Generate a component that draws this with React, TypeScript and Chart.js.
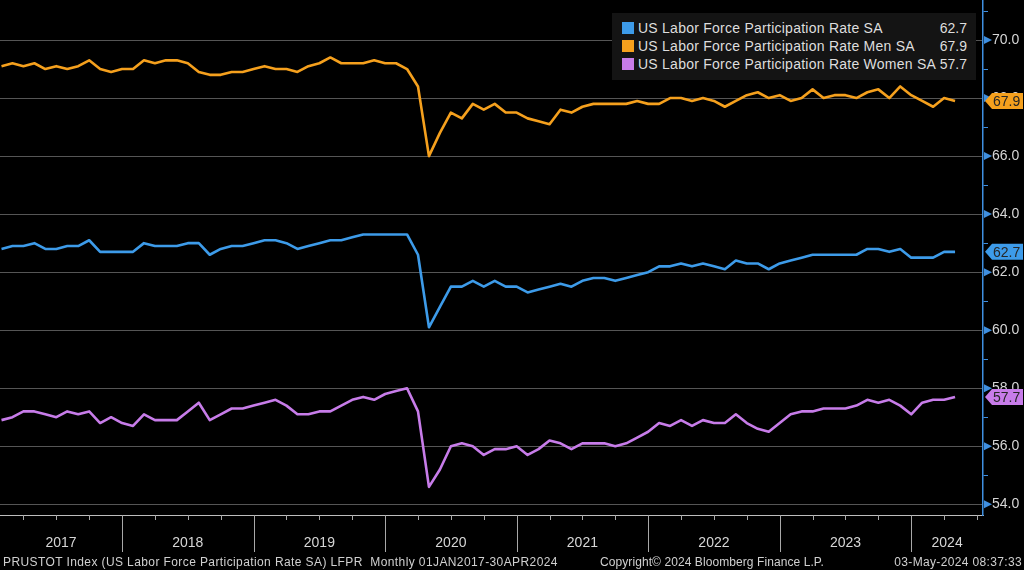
import React, { useEffect, useRef } from 'react';
import { Chart, registerables } from 'chart.js';

Chart.register(...registerables);

// ---------- data (monthly, Jan 2017 .. Apr 2024) ----------
const startYear = 2017;
const yearLabels = ['2017', '2018', '2019', '2020', '2021', '2022', '2023', '2024'];

const totalRate = [
  62.8, 62.9, 62.9, 63.0, 62.8, 62.8, 62.9, 62.9, 63.1, 62.7, 62.7, 62.7,
  62.7, 63.0, 62.9, 62.9, 62.9, 63.0, 63.0, 62.6, 62.8, 62.9, 62.9, 63.0,
  63.1, 63.1, 63.0, 62.8, 62.9, 63.0, 63.1, 63.1, 63.2, 63.3, 63.3, 63.3,
  63.3, 63.3, 62.6, 60.1, 60.8, 61.5, 61.5, 61.7, 61.5, 61.7, 61.5, 61.5,
  61.3, 61.4, 61.5, 61.6, 61.5, 61.7, 61.8, 61.8, 61.7, 61.8, 61.9, 62.0,
  62.2, 62.2, 62.3, 62.2, 62.3, 62.2, 62.1, 62.4, 62.3, 62.3, 62.1, 62.3,
  62.4, 62.5, 62.6, 62.6, 62.6, 62.6, 62.6, 62.8, 62.8, 62.7, 62.8, 62.5,
  62.5, 62.5, 62.7, 62.7,
];

const menRate = [
  69.1, 69.2, 69.1, 69.2, 69.0, 69.1, 69.0, 69.1, 69.3, 69.0, 68.9, 69.0,
  69.0, 69.3, 69.2, 69.3, 69.3, 69.2, 68.9, 68.8, 68.8, 68.9, 68.9, 69.0,
  69.1, 69.0, 69.0, 68.9, 69.1, 69.2, 69.4, 69.2, 69.2, 69.2, 69.3, 69.2,
  69.2, 69.0, 68.4, 66.0, 66.8, 67.5, 67.3, 67.8, 67.6, 67.8, 67.5, 67.5,
  67.3, 67.2, 67.1, 67.6, 67.5, 67.7, 67.8, 67.8, 67.8, 67.8, 67.9, 67.8,
  67.8, 68.0, 68.0, 67.9, 68.0, 67.9, 67.7, 67.9, 68.1, 68.2, 68.0, 68.1,
  67.9, 68.0, 68.3, 68.0, 68.1, 68.1, 68.0, 68.2, 68.3, 68.0, 68.4, 68.1,
  67.9, 67.7, 68.0, 67.9,
];

const womenRate = [
  56.9, 57.0, 57.2, 57.2, 57.1, 57.0, 57.2, 57.1, 57.2, 56.8, 57.0, 56.8,
  56.7, 57.1, 56.9, 56.9, 56.9, 57.2, 57.5, 56.9, 57.1, 57.3, 57.3, 57.4,
  57.5, 57.6, 57.4, 57.1, 57.1, 57.2, 57.2, 57.4, 57.6, 57.7, 57.6, 57.8,
  57.9, 58.0, 57.2, 54.6, 55.2, 56.0, 56.1, 56.0, 55.7, 55.9, 55.9, 56.0,
  55.7, 55.9, 56.2, 56.1, 55.9, 56.1, 56.1, 56.1, 56.0, 56.1, 56.3, 56.5,
  56.8, 56.7, 56.9, 56.7, 56.9, 56.8, 56.8, 57.1, 56.8, 56.6, 56.5, 56.8,
  57.1, 57.2, 57.2, 57.3, 57.3, 57.3, 57.4, 57.6, 57.5, 57.6, 57.4, 57.1,
  57.5, 57.6, 57.6, 57.7,
];

const seriesNames = [
  'US Labor Force Participation Rate SA',
  'US Labor Force Participation Rate Men SA',
  'US Labor Force Participation Rate Women SA',
];
const seriesColors = ['#3d9be9', '#f5a01d', '#c77ce9'];
const seriesData = [totalRate, menRate, womenRate];

const yTickValues = [54, 55, 56, 57, 58, 59, 60, 61, 62, 63, 64, 65, 66, 67, 68, 69, 70, 71];
const yMajorTicks = [54, 56, 58, 60, 62, 64, 66, 68, 70];

const footerLeft = 'PRUSTOT Index (US Labor Force Participation Rate SA) LFPR  Monthly 01JAN2017-30APR2024';
const footerMid = 'Copyright\u00a9 2024 Bloomberg Finance L.P.';
const footerRight = '03-May-2024 08:37:33';

// ---------- layout constants ----------
const X_MIN = -0.137;
const X_MAX = 89.55;
const Y_MIN = 53.63;
const Y_MAX = 71.38;
const AXIS_BLUE = '#3f8fe0';
const FONT = '"Liberation Sans", Arial, sans-serif';

const monthLabels: string[] = [];
for (let i = 0; i < totalRate.length; i++) {
  const y = startYear + Math.floor(i / 12);
  monthLabels.push(`${y}-${String((i % 12) + 1).padStart(2, '0')}`);
}

// year label positions: centre of the visible part of each year
const yearPositions = yearLabels.map((_, k) => {
  const s = Math.max(12 * k - 1, X_MIN);
  const e = Math.min(12 * k + 11, X_MAX);
  return (s + e) / 2;
});

const decorPlugin = {
  id: 'decor',
  afterDraw(chart: any) {
    const { ctx, chartArea, scales } = chart;
    const xs = scales.x;
    const ys = scales.y;
    ctx.save();
    // quarter ticks and year separators under the x axis
    ctx.strokeStyle = '#a8a8a8';
    ctx.lineWidth = 1;
    for (let v = -1; v <= X_MAX; v += 3) {
      if (v < X_MIN) continue;
      const px = Math.round(xs.getPixelForValue(v)) + 0.5;
      const isYear = (v + 1) % 12 === 0;
      ctx.beginPath();
      ctx.moveTo(px, chartArea.bottom);
      ctx.lineTo(px, chartArea.bottom + (isYear ? 37 : 5));
      ctx.stroke();
    }
    // arrow markers on major y ticks
    ctx.fillStyle = AXIS_BLUE;
    for (const v of yMajorTicks) {
      const py = ys.getPixelForValue(v);
      ctx.beginPath();
      ctx.moveTo(chartArea.right + 1, py - 4);
      ctx.lineTo(chartArea.right + 9, py);
      ctx.lineTo(chartArea.right + 1, py + 4);
      ctx.closePath();
      ctx.fill();
    }
    // last-value badges
    ctx.font = `14px ${FONT}`;
    ctx.textBaseline = 'middle';
    ctx.textAlign = 'left';
    seriesData.forEach((arr, idx) => {
      const val = arr[arr.length - 1];
      const py = ys.getPixelForValue(val);
      const l = chartArea.right + 2;
      const r = chart.width - 1;
      ctx.fillStyle = seriesColors[idx];
      ctx.beginPath();
      ctx.moveTo(l, py);
      ctx.lineTo(l + 7, py - 8);
      ctx.lineTo(r, py - 8);
      ctx.lineTo(r, py + 8);
      ctx.lineTo(l + 7, py + 8);
      ctx.closePath();
      ctx.fill();
      ctx.fillStyle = '#262626';
      ctx.fillText(val.toFixed(1), l + 8, py + 1);
    });
    ctx.restore();
  },
};

export default function App() {
  const ref = useRef<HTMLCanvasElement | null>(null);

  useEffect(() => {
    if (!ref.current) return;
    const chart = new Chart(ref.current, {
      type: 'line',
      data: {
        labels: monthLabels,
        datasets: seriesData.map((arr, idx) => ({
          label: seriesNames[idx],
          data: arr.map((v, i) => ({ x: i, y: v })),
          borderColor: seriesColors[idx],
          backgroundColor: seriesColors[idx],
          borderWidth: 2.6,
          pointRadius: 0,
          tension: 0,
          borderJoinStyle: 'round' as const,
        })),
      },
      options: {
        animation: false,
        responsive: false,
        devicePixelRatio: 1,
        layout: { padding: 0 },
        plugins: {
          legend: { display: false },
          tooltip: { enabled: false },
          title: { display: false },
        },
        scales: {
          x: {
            type: 'linear',
            min: X_MIN,
            max: X_MAX,
            afterBuildTicks: (s: any) => {
              s.ticks = yearPositions.map((v) => ({ value: v }));
            },
            afterFit: (s: any) => {
              s.height = 55;
              s.paddingLeft = 0;
              s.paddingRight = 0;
            },
            ticks: {
              autoSkip: false,
              maxRotation: 0,
              color: '#d6d6d6',
              font: { size: 14, family: FONT },
              padding: 20,
              callback: (_v: any, i: number) => yearLabels[i],
            },
            grid: { display: false, drawTicks: false },
            border: { display: true, color: '#bdbdbd', width: 1 },
          },
          y: {
            position: 'right',
            min: Y_MIN,
            max: Y_MAX,
            afterBuildTicks: (s: any) => {
              s.ticks = yTickValues.map((v) => ({ value: v }));
            },
            afterFit: (s: any) => {
              s.width = 41;
              s.paddingTop = 0;
              s.paddingBottom = 0;
            },
            ticks: {
              autoSkip: false,
              color: '#d6d6d6',
              font: { size: 14, family: FONT },
              padding: 4,
              callback: (v: any) => (Number(v) % 2 === 0 ? Number(v).toFixed(1) : ''),
            },
            grid: {
              color: (c: any) => (c.tick && Number(c.tick.value) % 2 === 0 ? '#555555' : 'rgba(0,0,0,0)'),
              tickColor: (c: any) => (c.tick && Number(c.tick.value) % 2 === 0 ? 'rgba(0,0,0,0)' : AXIS_BLUE),
              tickLength: 5,
              lineWidth: 1,
            },
            border: { display: true, color: AXIS_BLUE, width: 1.5 },
          },
        },
      },
      plugins: [decorPlugin],
    } as any);
    return () => chart.destroy();
  }, []);

  const footerStyle = {
    position: 'absolute' as const,
    top: 554,
    fontSize: 12,
    lineHeight: '16px',
    color: '#d0d0d0',
    whiteSpace: 'pre' as const,
  };

  return (
    <div
      style={{
        position: 'fixed',
        left: 0,
        top: 0,
        width: 1024,
        height: 570,
        background: '#000',
        overflow: 'hidden',
        fontFamily: FONT,
      }}
    >
      <canvas ref={ref} width={1024} height={570} style={{ display: 'block', width: 1024, height: 570 }} />
      <div
        style={{
          position: 'absolute',
          left: 612,
          top: 13,
          width: 364,
          height: 67,
          background: '#141414',
          boxSizing: 'border-box',
          paddingTop: 6,
        }}
      >
        {seriesNames.map((name, idx) => (
          <div
            key={name}
            style={{
              position: 'relative',
              height: 18,
              lineHeight: '18px',
              fontSize: 14,
              color: '#dedede',
              whiteSpace: 'nowrap',
            }}
          >
            <span
              style={{
                position: 'absolute',
                left: 10,
                top: 3,
                width: 12,
                height: 12,
                background: seriesColors[idx],
              }}
            />
            <span style={{ position: 'absolute', left: 26, letterSpacing: '0.25px' }}>{name}</span>
            <span style={{ position: 'absolute', right: 9 }}>
              {seriesData[idx][seriesData[idx].length - 1].toFixed(1)}
            </span>
          </div>
        ))}
      </div>
      <div style={{ ...footerStyle, left: 3, letterSpacing: '0.4px' }}>{footerLeft}</div>
      <div style={{ ...footerStyle, left: 600, letterSpacing: '0.08px' }}>{footerMid}</div>
      <div style={{ ...footerStyle, right: 2, letterSpacing: '0.35px' }}>{footerRight}</div>
    </div>
  );
}
